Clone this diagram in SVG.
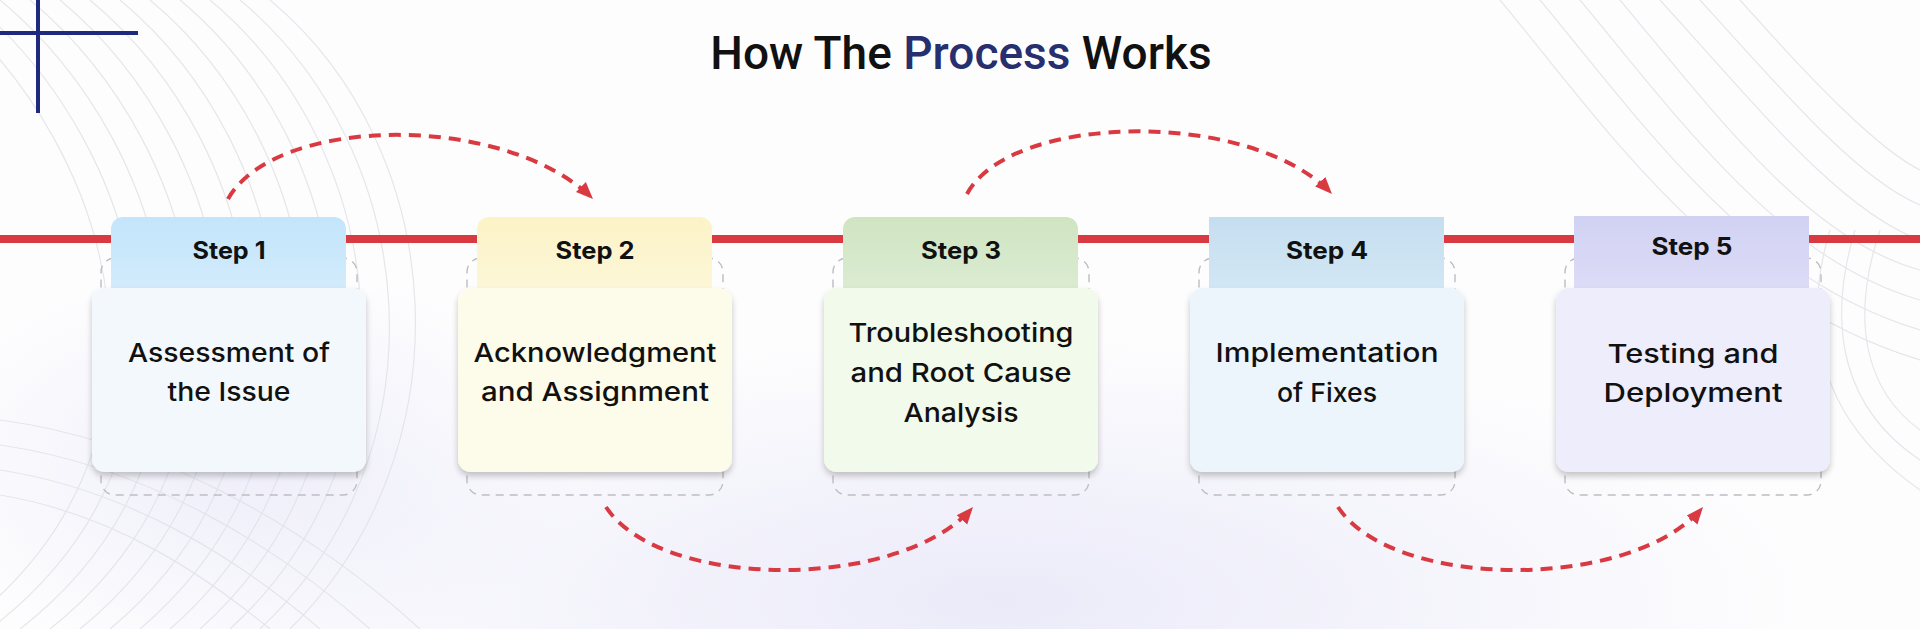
<svg xmlns="http://www.w3.org/2000/svg" width="1920" height="629" viewBox="0 0 1920 629">
<defs>
<style>
.bgl{fill:none;stroke:#e0e0e7;stroke-width:1.2}
.title{font-family:Roboto,"Liberation Sans",sans-serif;font-size:46px;font-weight:500;fill:#111}
.step{font-family:Inter,"Liberation Sans",sans-serif;font-size:24px;font-weight:700;fill:#111;text-anchor:middle}
.body{font-family:Inter,"Liberation Sans",sans-serif;font-size:26px;font-weight:500;fill:#111;text-anchor:middle}
.dash{fill:none;stroke:#bdbdc2;stroke-width:1.4;stroke-dasharray:8 6}
.conn{fill:none;stroke:#d93a41;stroke-width:4;stroke-dasharray:12 8;marker-end:url(#ah)}
</style>
<marker id="ah" markerUnits="userSpaceOnUse" markerWidth="20" markerHeight="18" refX="17" refY="8" orient="auto"><path d="M0,1 L17,8 L0,15 Z" fill="#d93a41"/></marker>
<filter id="sh" x="-10%" y="-10%" width="120%" height="130%"><feDropShadow dx="0" dy="4" stdDeviation="3" flood-color="#000" flood-opacity="0.22"/></filter>
<radialGradient id="glow" cx="0.5" cy="0.5" r="0.5"><stop offset="0" stop-color="#ebeaf9"/><stop offset="1" stop-color="#ebeaf9" stop-opacity="0"/></radialGradient>
<linearGradient id="t1" x1="0" y1="0" x2="0" y2="1"><stop offset="0" stop-color="#c3e5fb"/><stop offset="1" stop-color="#d6edfc"/></linearGradient>
<linearGradient id="t2" x1="0" y1="0" x2="0" y2="1"><stop offset="0" stop-color="#fcf3c6"/><stop offset="1" stop-color="#fdf7dc"/></linearGradient>
<linearGradient id="t3" x1="0" y1="0" x2="0" y2="1"><stop offset="0" stop-color="#cfe5c2"/><stop offset="1" stop-color="#deedd5"/></linearGradient>
<linearGradient id="t4" x1="0" y1="0" x2="0" y2="1"><stop offset="0" stop-color="#c5deef"/><stop offset="1" stop-color="#d6e9f6"/></linearGradient>
<linearGradient id="t5" x1="0" y1="0" x2="0" y2="1"><stop offset="0" stop-color="#d1d1f3"/><stop offset="1" stop-color="#dfdff8"/></linearGradient>
</defs>

<g id="background">
<rect width="1920" height="629" fill="#fdfdfe"/>
<ellipse cx="1000" cy="600" rx="800" ry="260" fill="url(#glow)"/>
<ellipse cx="250" cy="470" rx="330" ry="200" fill="url(#glow)" opacity="0.8"/>
<g opacity="0.8">
<path class="bgl" d="M-60,0 C120,150 200,450 -40,629"/>
<path class="bgl" d="M-30,0 C150,150 225,450 -10,629"/>
<path class="bgl" d="M0,0 C180,150 250,450 20,629"/>
<path class="bgl" d="M30,0 C210,150 275,450 50,629"/>
<path class="bgl" d="M60,0 C240,150 300,450 80,629"/>
<path class="bgl" d="M90,0 C270,150 325,450 110,629"/>
<path class="bgl" d="M120,0 C300,150 350,450 140,629"/>
<path class="bgl" d="M150,0 C330,150 375,450 170,629"/>
<path class="bgl" d="M180,0 C360,150 400,450 200,629"/>
<path class="bgl" d="M210,0 C390,150 425,450 230,629"/>
<path class="bgl" d="M240,0 C420,150 450,450 260,629"/>
<path class="bgl" d="M270,0 C450,150 470,450 290,629"/>
<path class="bgl" d="M0,420 C150,440 300,520 420,629"/>
<path class="bgl" d="M0,445 C140,465 270,540 370,629"/>
<path class="bgl" d="M0,470 C130,490 240,560 320,629"/>
<path class="bgl" d="M0,495 C120,515 210,580 270,629"/>
<path class="bgl" d="M1500,0 C1600,120 1720,300 1920,360"/>
<path class="bgl" d="M1540,0 C1640,120 1750,280 1920,330"/>
<path class="bgl" d="M1580,0 C1680,120 1780,260 1920,300"/>
<path class="bgl" d="M1620,0 C1720,120 1810,240 1920,270"/>
<path class="bgl" d="M1660,0 C1760,110 1840,210 1920,240"/>
<path class="bgl" d="M1700,0 C1790,100 1860,180 1920,205"/>
<path class="bgl" d="M1740,0 C1820,90 1880,150 1920,170"/>
<path class="bgl" d="M1830,230 C1800,330 1820,420 1920,490"/>
<path class="bgl" d="M1855,230 C1825,330 1845,410 1920,460"/>
<path class="bgl" d="M1880,230 C1850,320 1865,390 1920,430"/>
</g>
</g>

<g id="decor">
<line x1="38" y1="0" x2="38" y2="113" stroke="#1f2a7e" stroke-width="4"/>
<line x1="0" y1="33" x2="138" y2="33" stroke="#1f2a7e" stroke-width="4"/>
<rect x="0" y="235" width="1920" height="8" fill="#d93a41"/>
</g>

<g id="title">
<text class="title" x="961" y="69" text-anchor="middle">How The <tspan fill="#272f6f">Process</tspan> Works</text>
</g>

<g id="connectors">
<path class="conn" d="M228,199 C275,115 505,112 593,199"/>
<path class="conn" d="M606,507 C660,590 900,592 973,507"/>
<path class="conn" d="M967,194 C1010,113 1250,108 1332,194"/>
<path class="conn" d="M1338,507 C1392,590 1632,592 1703,507"/>
</g>

<g id="step1">
<rect class="dash" x="101" y="258" width="256" height="237" rx="14"/>
<rect x="111" y="217" width="235" height="90" rx="12" fill="url(#t1)"/>
<rect x="92" y="288" width="274" height="184" rx="13" fill="#f3f8fd" filter="url(#sh)"/>
<text class="step" x="229" y="259" textLength="73" lengthAdjust="spacingAndGlyphs">Step 1</text>
<text class="body" x="229" y="362" textLength="202" lengthAdjust="spacingAndGlyphs">Assessment of</text>
<text class="body" x="229" y="401" textLength="123" lengthAdjust="spacingAndGlyphs">the Issue</text>
</g>

<g id="step2">
<rect class="dash" x="467" y="258" width="256" height="237" rx="14"/>
<rect x="477" y="217" width="235" height="90" rx="12" fill="url(#t2)"/>
<rect x="458" y="288" width="274" height="184" rx="13" fill="#fdfbea" filter="url(#sh)"/>
<text class="step" x="595" y="259" textLength="79" lengthAdjust="spacingAndGlyphs">Step 2</text>
<text class="body" x="595" y="362" textLength="243" lengthAdjust="spacingAndGlyphs">Acknowledgment</text>
<text class="body" x="595" y="401" textLength="228" lengthAdjust="spacingAndGlyphs">and Assignment</text>
</g>

<g id="step3">
<rect class="dash" x="833" y="258" width="256" height="237" rx="14"/>
<rect x="843" y="217" width="235" height="90" rx="12" fill="url(#t3)"/>
<rect x="824" y="288" width="274" height="184" rx="13" fill="#f2faeb" filter="url(#sh)"/>
<text class="step" x="961" y="259" textLength="80" lengthAdjust="spacingAndGlyphs">Step 3</text>
<text class="body" x="961" y="342" textLength="225" lengthAdjust="spacingAndGlyphs">Troubleshooting</text>
<text class="body" x="961" y="382" textLength="221" lengthAdjust="spacingAndGlyphs">and Root Cause</text>
<text class="body" x="961" y="422" textLength="115" lengthAdjust="spacingAndGlyphs">Analysis</text>
</g>

<g id="step4">
<rect class="dash" x="1199" y="258" width="256" height="237" rx="14"/>
<rect x="1209" y="217" width="235" height="90" fill="url(#t4)"/>
<rect x="1190" y="288" width="274" height="184" rx="13" fill="#edf5fc" filter="url(#sh)"/>
<text class="step" x="1327" y="259" textLength="82" lengthAdjust="spacingAndGlyphs">Step 4</text>
<text class="body" x="1327" y="362" textLength="223" lengthAdjust="spacingAndGlyphs">Implementation</text>
<text class="body" x="1327" y="402" textLength="100" lengthAdjust="spacingAndGlyphs">of Fixes</text>
</g>

<g id="step5">
<rect class="dash" x="1565" y="258" width="256" height="237" rx="14"/>
<rect x="1574" y="216" width="235" height="91" fill="url(#t5)"/>
<rect x="1556" y="288" width="274" height="184" rx="13" fill="#ededfb" filter="url(#sh)"/>
<text class="step" x="1692" y="255" textLength="81" lengthAdjust="spacingAndGlyphs">Step 5</text>
<text class="body" x="1693" y="363" textLength="171" lengthAdjust="spacingAndGlyphs">Testing and</text>
<text class="body" x="1693" y="402" textLength="179" lengthAdjust="spacingAndGlyphs">Deployment</text>
</g>
</svg>
